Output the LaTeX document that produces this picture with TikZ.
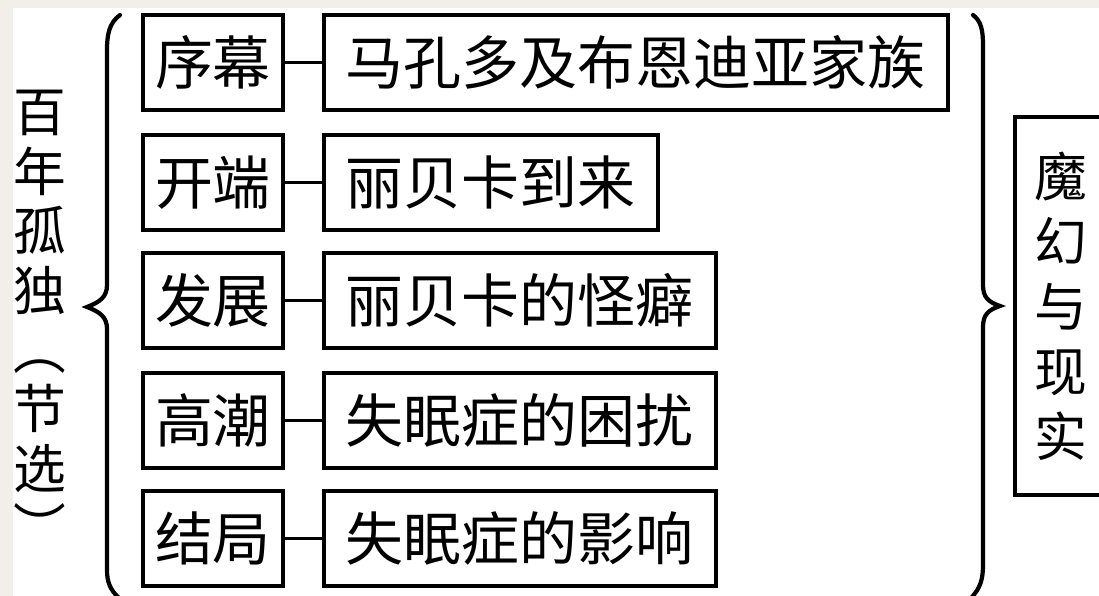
\documentclass[tikz,border=0pt]{standalone}
\usepackage{fontspec}
\usepackage{tikz}
\newfontfamily\cjk{Noto Sans CJK SC}
\definecolor{paper}{RGB}{242,239,232}

\begin{document}
\begin{tikzpicture}[y=-1cm,
  stage/.style={draw, line width=1.1pt, minimum width=1.40cm, minimum height=0.95cm, inner sep=0pt, font=\cjk\fontsize{16.5}{18}\selectfont},
  event/.style={draw, line width=1.1pt, anchor=west, minimum height=0.95cm, inner xsep=0.22cm, inner ysep=0pt, font=\cjk\fontsize{16.5}{18}\selectfont},
  link/.style={line width=0.9pt},
  brace/.style={line width=1.2pt, line cap=round}]
\clip (0,0) rectangle (10.99,5.96);
\fill[paper] (0,0) rectangle (10.99,5.96);
\fill[white] (0.13,0.08) rectangle (10.99,5.96);
% title on the left
\node[align=center, font=\cjk\fontsize{15}{16.9}\selectfont] (title) at (0.40,3.19) {百\\年\\孤\\独\\︵\\节\\选\\︶};
\draw[brace] (1.20,0.15) .. controls (1.09,0.23) and (1.07,0.35) .. (1.07,0.50) -- (1.07,2.85) .. controls (1.07,2.97) and (1.00,3.02) .. (0.87,3.07) .. controls (1.00,3.12) and (1.07,3.17) .. (1.07,3.29) -- (1.07,5.70) .. controls (1.07,5.82) and (1.10,5.90) .. (1.20,5.99);
% stages
\node[stage] (prologue) at (2.13,0.625) {序幕};
\node[stage] (opening) at (2.13,1.825) {开端};
\node[stage] (rising) at (2.13,3.005) {发展};
\node[stage] (climax) at (2.13,4.205) {高潮};
\node[stage] (ending) at (2.13,5.385) {结局};
\node[event] (family) at (3.22,0.625) {马孔多及布恩迪亚家族};
\node[event] (arrival) at (3.22,1.825) {丽贝卡到来};
\node[event] (habit) at (3.22,3.005) {丽贝卡的怪癖};
\node[event] (trouble) at (3.22,4.205) {失眠症的困扰};
\node[event] (effect) at (3.22,5.385) {失眠症的影响};
\draw[link] (prologue) -- (family);
\draw[link] (opening) -- (arrival);
\draw[link] (rising) -- (habit);
\draw[link] (climax) -- (trouble);
\draw[link] (ending) -- (effect);
% theme on the right
\draw[brace] (9.73,0.15) .. controls (9.81,0.21) and (9.83,0.30) .. (9.83,0.45) -- (9.83,2.85) .. controls (9.83,2.97) and (9.88,3.02) .. (10.00,3.06) .. controls (9.88,3.10) and (9.83,3.15) .. (9.83,3.27) -- (9.83,5.65) .. controls (9.83,5.80) and (9.80,5.88) .. (9.72,5.97);
\node[draw, line width=1.1pt, anchor=west, inner xsep=0.2cm, minimum height=3.78cm, align=center, font=\cjk\fontsize{15}{18.5}\selectfont] (theme) at (10.13,3.06) {魔\\幻\\与\\现\\实};
\end{tikzpicture}
\end{document}
